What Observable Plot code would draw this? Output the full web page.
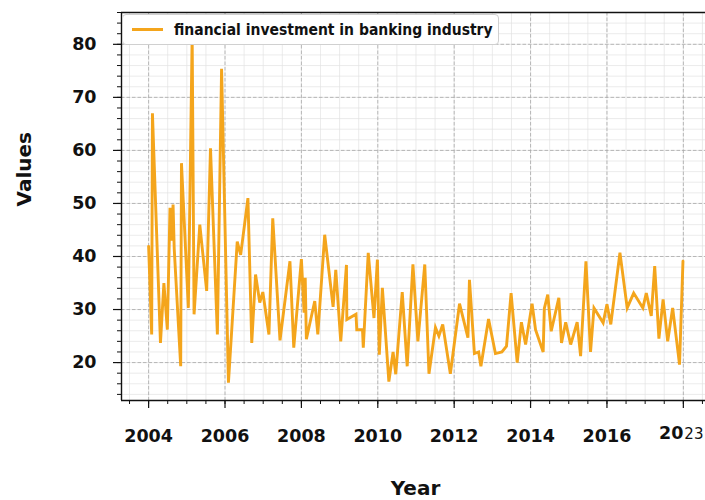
<!DOCTYPE html>
<html>
<head>
<meta charset="utf-8">
<script src="https://cdn.jsdelivr.net/npm/d3@7"></script>
<script src="https://cdn.jsdelivr.net/npm/@observablehq/plot@0.6"></script>
<style>
  body { margin: 0; background: #fff; }
  #wrap { position: relative; width: 705px; height: 500px; overflow: hidden; }
  #legend {
    position: absolute; left: 122px; top: 14px; width: 377px; height: 31px;
    background: #fff; border: 1px solid #d0d0d0; border-radius: 4px; box-sizing: border-box;
    font-family: "DejaVu Sans Condensed", "DejaVu Sans", sans-serif; font-weight: bold; font-size: 15.5px;
    color: #111; display: flex; align-items: center; white-space: nowrap;
  }
  #legend .sw { width: 31px; height: 0; border-top: 3px solid #f4a51c; margin-left: 9px; margin-right: 11px; }
</style>
</head>
<body>
<div id="wrap"><div id="legend"><span class="sw"></span><span id="legtext"></span></div></div>
<script>
const seriesName = "financial investment in banking industry";
const years = [
  2004.00, 2004.08, 2004.10, 2004.31, 2004.40, 2004.49, 2004.56, 2004.60, 2004.64, 2004.67,
  2004.84, 2004.86, 2005.04, 2005.14, 2005.19, 2005.34, 2005.52, 2005.62, 2005.80, 2005.91,
  2006.09, 2006.32, 2006.41, 2006.60, 2006.70, 2006.80, 2006.91, 2006.99, 2007.15, 2007.25,
  2007.44, 2007.70, 2007.80, 2008.00, 2008.07, 2008.10, 2008.13, 2008.35, 2008.43, 2008.61,
  2008.83, 2008.90, 2009.03, 2009.18, 2009.19, 2009.43, 2009.45, 2009.60, 2009.62, 2009.75,
  2009.90, 2009.99, 2010.04, 2010.12, 2010.29, 2010.40, 2010.47, 2010.64, 2010.77, 2010.92,
  2011.05, 2011.23, 2011.34, 2011.51, 2011.60, 2011.70, 2011.90, 2012.14, 2012.36, 2012.40,
  2012.53, 2012.64, 2012.70, 2012.90, 2013.08, 2013.25, 2013.37, 2013.49, 2013.65, 2013.76,
  2013.87, 2014.04, 2014.13, 2014.33, 2014.36, 2014.45, 2014.54, 2014.74, 2014.81, 2014.92,
  2015.05, 2015.22, 2015.31, 2015.45, 2015.57, 2015.66, 2015.90, 2016.00, 2016.10, 2016.34,
  2016.53, 2016.70, 2016.94, 2017.03, 2017.16, 2017.25, 2017.36, 2017.47, 2017.59, 2017.72,
  2017.90, 2017.99
];
const values = [
  41.9, 25.3, 67.0, 23.7, 35.0, 26.2, 49.2, 43.0, 49.8, 41.5,
  19.3, 57.6, 30.3, 81.5, 29.1, 46.0, 33.5, 60.4, 25.3, 75.4,
  16.2, 42.8, 40.3, 51.0, 23.7, 36.6, 31.3, 33.3, 25.3, 47.2,
  24.2, 39.1, 22.8, 39.5, 29.4, 36.0, 24.4, 31.6, 25.3, 44.1,
  30.5, 37.5, 24.0, 38.4, 28.1, 29.1, 26.2, 26.2, 22.8, 40.7,
  28.4, 39.4, 21.5, 34.1, 16.4, 22.0, 17.8, 33.3, 19.3, 38.5,
  24.0, 38.5, 17.9, 26.6, 25.0, 27.2, 17.9, 31.1, 24.7, 35.6,
  21.7, 22.0, 19.3, 28.2, 21.7, 22.0, 23.1, 33.1, 20.0, 27.6,
  23.4, 31.1, 26.2, 22.0, 30.2, 32.8, 25.9, 32.2, 23.7, 27.6,
  23.4, 27.6, 21.2, 39.1, 22.0, 30.3, 27.5, 31.0, 27.2, 40.7,
  30.3, 33.1, 30.3, 33.1, 28.8, 38.2, 24.5, 31.9, 24.0, 30.3,
  19.6, 39.1
];
const xTickYears = [2004, 2006, 2008, 2010, 2012, 2014, 2016, 2018];
const xTickLabels = ["2004", "2006", "2008", "2010", "2012", "2014", "2016", "2023"];
const yTicks = [20, 30, 40, 50, 60, 70, 80];
const xLabel = "Year";
const yLabel = "Values";

document.getElementById("legtext").textContent = seriesName;

const data = years.map((y, i) => ({year: y, value: values[i]}));
const minorX = d3.range(2003.5, 2018.6, 0.5);
const minorY = d3.range(14, 86.1, 2);
const lastIdx = xTickYears.length - 1;
const lastLabel = xTickLabels[lastIdx];
const labelMap = new Map(xTickYears.map((y, i) => [y, i === lastIdx ? "" : xTickLabels[i]]));

const xDomain = [2003.29, 2018.58];
const yDomain = [12.85, 86];
const tickFont = {fontFamily: "DejaVu Sans", fontWeight: "bold", fontSize: 17.5, fill: "#111"};

const chart = Plot.plot({
  width: 705, height: 500,
  marginLeft: 121, marginRight: 0, marginTop: 12, marginBottom: 100,
  x: {domain: xDomain},
  y: {domain: yDomain},
  style: {fontFamily: "DejaVu Sans", background: "#fff", color: "#111"},
  marks: [
    Plot.gridX(minorX, {stroke: "#e2e2e2", strokeOpacity: 1, strokeWidth: 0.7}),
    Plot.gridY(minorY, {stroke: "#e2e2e2", strokeOpacity: 1, strokeWidth: 0.7}),
    Plot.gridX(xTickYears, {stroke: "#a8a8a8", strokeOpacity: 1, strokeWidth: 0.8, strokeDasharray: "3.5,2"}),
    Plot.gridY(yTicks, {stroke: "#a8a8a8", strokeOpacity: 1, strokeWidth: 0.8, strokeDasharray: "3.5,2"}),
    Plot.line(data, {x: "year", y: "value", stroke: "#f4a51c", strokeWidth: 2.9, strokeLinejoin: "miter", strokeMiterlimit: 4}),
    Plot.axisX(minorX, {tickSize: 4, tickFormat: () => "", label: null, stroke: "#111"}),
    Plot.axisY(minorY, {tickSize: 4, tickFormat: () => "", label: null, stroke: "#111"}),
    Plot.axisX(xTickYears, {tickSize: 8, tickPadding: 21, tickFormat: d => labelMap.get(d), label: null, stroke: "#111", strokeWidth: 1.2, ...tickFont}),
    Plot.axisY(yTicks, {tickSize: 8, tickPadding: 17, label: null, stroke: "#111", strokeWidth: 1.2, ...tickFont}),
    Plot.text([xTickYears[lastIdx]], {x: d => d, frameAnchor: "bottom", dy: 38, text: () => lastLabel.slice(0, 2), textAnchor: "end", ...tickFont}),
    Plot.text([xTickYears[lastIdx]], {x: d => d, frameAnchor: "bottom", dy: 38, dx: 1, text: () => lastLabel.slice(2), textAnchor: "start", fontFamily: "DejaVu Sans", fontSize: 15, fill: "#111"}),
    Plot.ruleX([xDomain[0]], {stroke: "#111", strokeWidth: 1.4}),
    Plot.ruleY([yDomain[0], yDomain[1]], {stroke: "#111", strokeWidth: 1.4}),
    Plot.text([yLabel], {frameAnchor: "left", dx: -97, rotate: -90, text: d => d, fontFamily: "DejaVu Sans", fontWeight: "bold", fontSize: 20, fill: "#111"}),
    Plot.text([xLabel], {frameAnchor: "bottom", dy: 94, dx: 2, text: d => d, fontFamily: "DejaVu Sans", fontWeight: "bold", fontSize: 20, fill: "#111"})
  ]
});
document.getElementById("wrap").prepend(chart);
</script>
</body>
</html>
